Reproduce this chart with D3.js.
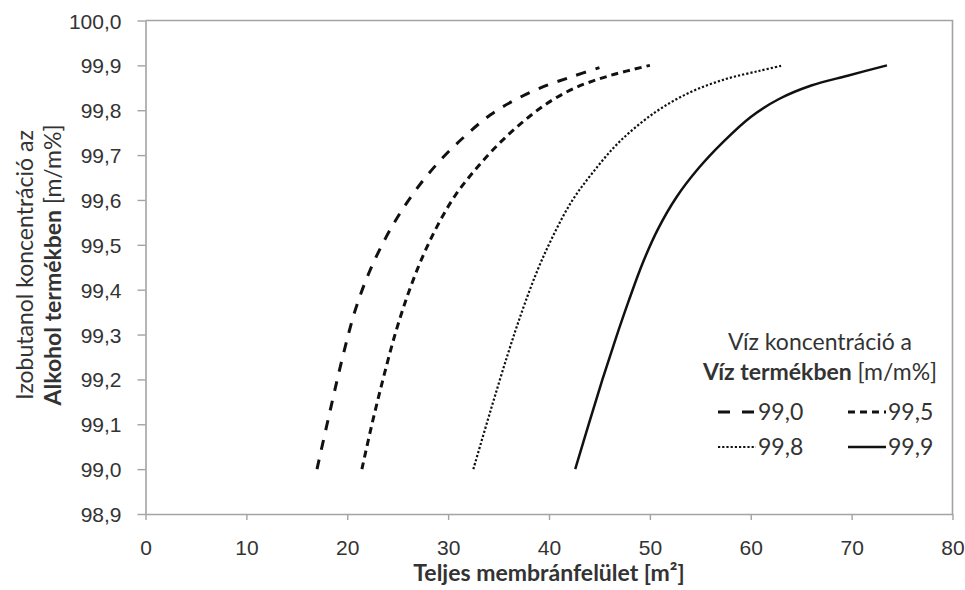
<!DOCTYPE html>
<html>
<head>
<meta charset="utf-8">
<script src="https://cdn.jsdelivr.net/npm/d3@7"></script>
<style>
  body { margin: 0; background: #fff; }
  svg { display: block; font-family: Lato, "Open Sans", sans-serif; }
</style>
</head>
<body>
<div id="chart"></div>
<script>
// membrane area [m2] vs isobutanol concentration, one pair of arrays per series
const seriesNames = ['99,0', '99,5', '99,8', '99,9'];

const area990 = [17.0, 18.4, 19.6, 20.8, 22.2, 23.8, 25.5, 27.4, 29.5, 31.8, 34.2, 36.8, 39.5, 42.3, 45.0];
const conc990 = [99.00, 99.14, 99.255, 99.355, 99.44, 99.515, 99.58, 99.64, 99.695, 99.745, 99.79, 99.825, 99.853, 99.875, 99.895];

const area995 = [21.45, 22.5, 23.6, 24.8, 26.1, 27.5, 29.0, 30.7, 32.6, 34.8, 37.2, 39.8, 42.6, 46.0, 50.0];
const conc995 = [99.00, 99.105, 99.205, 99.305, 99.395, 99.475, 99.545, 99.61, 99.665, 99.72, 99.77, 99.815, 99.85, 99.877, 99.90];

const area998 = [32.5, 34.2, 35.9, 37.3, 38.8, 40.3, 42.2, 44.3, 47.0, 50.5, 54.0, 57.6, 60.9, 63.2];
const conc998 = [99.00, 99.13, 99.255, 99.35, 99.44, 99.515, 99.595, 99.66, 99.73, 99.795, 99.84, 99.87, 99.888, 99.90];

const area999 = [42.6, 44.0, 45.3, 46.6, 47.9, 49.3, 50.8, 52.6, 54.8, 57.3, 60.0, 62.8, 66.0, 69.6, 73.5];
const conc999 = [99.00, 99.105, 99.20, 99.29, 99.375, 99.46, 99.535, 99.605, 99.67, 99.73, 99.785, 99.825, 99.855, 99.877, 99.90];

const xTicks = [0, 10, 20, 30, 40, 50, 60, 70, 80];
const yTicks = [98.9, 99.0, 99.1, 99.2, 99.3, 99.4, 99.5, 99.6, 99.7, 99.8, 99.9, 100.0];

let margin = {top: 20.5, right: 12.5, bottom: 76, left: 145.5};
let width = 965 - margin.left - margin.right;
let height = 590 - margin.top - margin.bottom;

let areas = [area990, area995, area998, area999];
let concs = [conc990, conc995, conc998, conc999];
let series = seriesNames.map(function(name, i) {
  return {name: name, values: areas[i].map(function(a, j) { return {x: a, y: concs[i][j]}; })};
});

// line look per series: long dash, short dash, dots, solid
let styles = {
  '99,0': {w: 3, dash: '10,10'},
  '99,5': {w: 3, dash: '7,5'},
  '99,8': {w: 2.2, dash: '2.2,2'},
  '99,9': {w: 2.5, dash: null}
};

let comma = d3.formatLocale({decimal: ',', thousands: ' ', grouping: [3], currency: ['', '']}).format('.1f');

let svg = d3.select('#chart').append('svg')
  .attr('width', 965)
  .attr('height', 590);

let g = svg.append('g')
  .attr('transform', 'translate(' + margin.left + ',' + margin.top + ')');

let x = d3.scaleLinear().domain([0, 80]).range([0, width]);
let y = d3.scaleLinear().domain([98.9, 100.0]).range([height, 0]);

let axisColor = '#a3a3a3';
let textColor = '#333';

// plot frame (top and right edges)
g.append('path')
  .attr('d', 'M0,0H' + width + 'V' + height)
  .attr('fill', 'none')
  .attr('stroke', axisColor)
  .attr('stroke-width', 1.6);

let yAxis = g.append('g')
  .attr('class', 'y axis')
  .call(d3.axisLeft(y).tickValues(yTicks).tickSize(8).tickSizeOuter(0).tickFormat(comma));

let xAxis = g.append('g')
  .attr('class', 'x axis')
  .attr('transform', 'translate(0,' + height + ')')
  .call(d3.axisBottom(x).tickValues(xTicks).tickSize(6).tickSizeOuter(0).tickFormat(d3.format('d')));

g.selectAll('.axis path.domain').attr('stroke', axisColor).attr('stroke-width', 1.6);
g.selectAll('.axis .tick line').attr('stroke', axisColor).attr('stroke-width', 1.4);

yAxis.selectAll('.tick text')
  .attr('x', -24)
  .attr('dy', '0.36em')
  .attr('fill', textColor)
  .style('font-size', '21px');

xAxis.selectAll('.tick text')
  .attr('y', 41)
  .attr('dy', 0)
  .attr('fill', textColor)
  .style('font-size', '21px');

let line = d3.line()
  .x(function(d) { return x(d.x); })
  .y(function(d) { return y(d.y); })
  .curve(d3.curveCatmullRom.alpha(0.5));

g.selectAll('.series')
  .data(series)
  .enter().append('path')
  .attr('class', 'series')
  .attr('d', function(d) { return line(d.values); })
  .attr('fill', 'none')
  .attr('stroke', '#111')
  .attr('stroke-width', function(d) { return styles[d.name].w; })
  .attr('stroke-dasharray', function(d) { return styles[d.name].dash; });

// axis titles
svg.append('text')
  .attr('x', margin.left + width / 2)
  .attr('y', 581)
  .attr('text-anchor', 'middle')
  .attr('fill', textColor)
  .style('font-size', '23px')
  .style('font-weight', 'bold')
  .text('Teljes membránfelület [m²]');

let yTitle = svg.append('text')
  .attr('transform', 'translate(0,265) rotate(-90)')
  .attr('text-anchor', 'middle')
  .attr('fill', textColor)
  .style('font-size', '23px');

yTitle.append('tspan').attr('x', 0).attr('y', 33).text('Izobutanol koncentráció az');
let yLine2 = yTitle.append('tspan').attr('x', 0).attr('y', 61);
yLine2.append('tspan').style('font-weight', 'bold').text('Alkohol termékben');
yLine2.append('tspan').text(' [m/m%]');

// legend
let legend = svg.append('g').attr('class', 'legend');

legend.append('text')
  .attr('x', 820).attr('y', 350)
  .attr('text-anchor', 'middle')
  .attr('fill', textColor)
  .style('font-size', '23px')
  .text('Víz koncentráció a');

let legTitle = legend.append('text')
  .attr('x', 820).attr('y', 380)
  .attr('text-anchor', 'middle')
  .attr('fill', textColor)
  .style('font-size', '23px');
legTitle.append('tspan').style('font-weight', 'bold').text('Víz termékben');
legTitle.append('tspan').text(' [m/m%]');

let cols = [718, 848];
let rows = [412, 447];

let item = legend.selectAll('.item')
  .data(seriesNames)
  .enter().append('g')
  .attr('class', 'item')
  .attr('transform', function(d, i) { return 'translate(' + cols[i % 2] + ',' + rows[Math.floor(i / 2)] + ')'; });

item.append('line')
  .attr('x1', 0).attr('x2', 38)
  .attr('y1', 0).attr('y2', 0)
  .attr('stroke', '#111')
  .attr('stroke-width', function(d) { return styles[d].w; })
  .attr('stroke-dasharray', function(d) { return d === '99,0' ? '12,12' : styles[d].dash; });

item.append('text')
  .attr('x', 40).attr('y', 8)
  .attr('fill', textColor)
  .style('font-size', '23px')
  .text(function(d) { return d; });
</script>
</body>
</html>
